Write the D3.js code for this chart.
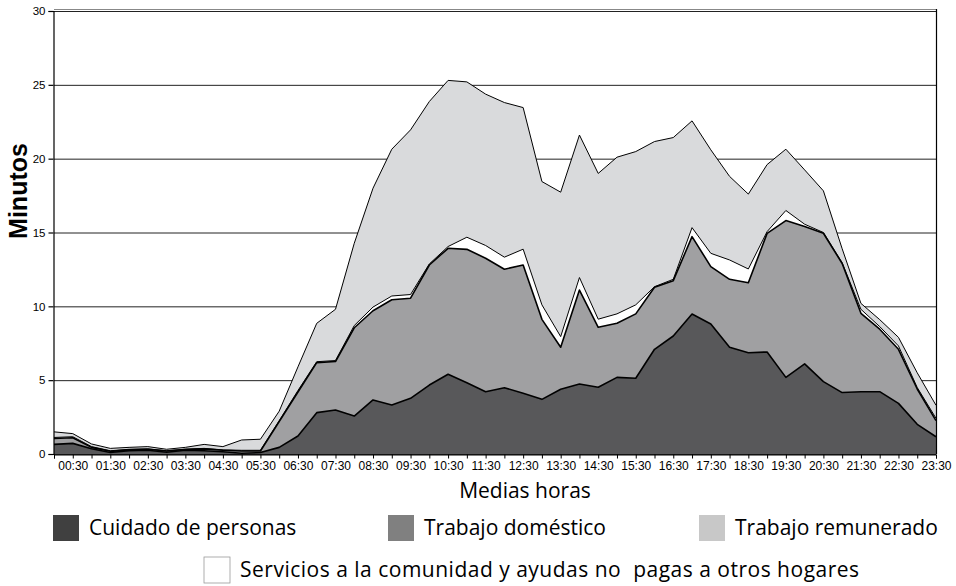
<!DOCTYPE html>
<html>
<head>
<meta charset="utf-8">
<script src="https://cdn.jsdelivr.net/npm/d3@7"></script>
<style>
  body { margin: 0; background: #fff; }
  svg { display: block; }
</style>
</head>
<body>
<svg id="chart"></svg>
<script>
// half-hour slots
var categories = ["00:00","00:30","01:00","01:30","02:00","02:30","03:00","03:30",
  "04:00","04:30","05:00","05:30","06:00","06:30","07:00","07:30",
  "08:00","08:30","09:00","09:30","10:00","10:30","11:00","11:30",
  "12:00","12:30","13:00","13:30","14:00","14:30","15:00","15:30",
  "16:00","16:30","17:00","17:30","18:00","18:30","19:00","19:30",
  "20:00","20:30","21:00","21:30","22:00","22:30","23:00","23:30"];

// minutes per series
var cuidado = [0.65,0.72,0.35,0.10,0.22,0.25,0.12,0.25,0.22,0.15,0.05,0.10,
  0.45,1.22,2.80,2.98,2.57,3.66,3.32,3.77,4.67,5.40,4.83,4.22,
  4.49,4.11,3.70,4.38,4.74,4.52,5.19,5.13,7.09,7.99,9.48,8.80,
  7.23,6.86,6.91,5.19,6.10,4.90,4.16,4.22,4.22,3.43,2.01,1.17];
var domestico = [0.40,0.38,0.10,0.08,0.06,0.07,0.08,0.05,0.13,0.10,0.15,0.10,
  1.75,2.98,3.39,3.28,5.98,6.04,7.13,6.78,8.13,8.53,9.03,9.04,
  8.02,8.69,5.42,2.85,6.36,4.06,3.66,4.36,4.20,3.75,5.24,3.89,
  4.60,4.74,8.03,10.62,9.30,10.05,8.74,5.31,4.23,3.66,2.39,1.09];
var servicios = [0.07,0.07,0.05,0.04,0.04,0.03,0.02,0.03,0.03,0.03,0.05,0.05,
  0.05,0.10,0.06,0.07,0.15,0.25,0.25,0.25,0.07,0.12,0.82,0.86,
  0.82,1.07,0.98,0.72,0.85,0.55,0.64,0.61,0.04,0.09,0.61,0.90,
  1.31,0.93,0.12,0.68,0.16,0.05,0.05,0.27,0.18,0.23,0.10,0.16];
var remunerado = [0.38,0.21,0.18,0.16,0.13,0.15,0.10,0.12,0.27,0.22,0.70,0.75,
  0.65,1.60,2.60,3.47,5.57,8.05,9.94,11.15,11.00,11.25,10.52,10.25,
  10.47,9.59,8.35,9.78,9.65,9.87,10.61,10.38,9.83,9.60,7.23,7.01,
  5.66,5.07,4.54,4.15,3.68,2.82,0.95,0.40,0.47,0.58,1.00,0.88];

var yTicks = [0, 5, 10, 15, 20, 25, 30];

var width = 956, height = 586;
var plotL = 54, plotR = 936, plotT = 11, plotB = 454;

var svg = d3.select("#chart").attr("width", width).attr("height", height);

var keys = ["cuidado", "domestico", "servicios", "remunerado"];
var fills = {cuidado: "#58585a", domestico: "#a0a0a2", servicios: "#ffffff", remunerado: "#d9dadc"};
var lineW = {cuidado: 1.6, domestico: 1.6, servicios: 1, remunerado: 1};

var rows = categories.map(function(c, i) {
  return {t: c, cuidado: cuidado[i], domestico: domestico[i],
          servicios: servicios[i], remunerado: remunerado[i]};
});

var x = d3.scalePoint().domain(categories).range([plotL, plotR]);
var y = d3.scaleLinear().domain([0, 30]).range([plotB, plotT]);

// grid
svg.append("g").selectAll("line").data(yTicks).enter().append("line")
  .attr("x1", plotL).attr("x2", plotR)
  .attr("y1", function(d){ return y(d) + 0.5; })
  .attr("y2", function(d){ return y(d) + 0.5; })
  .attr("stroke", "#222").attr("stroke-width", 1);

var stacked = d3.stack().keys(keys)(rows);

var area = d3.area()
  .x(function(d){ return x(d.data.t); })
  .y0(function(d){ return y(d[0]); })
  .y1(function(d){ return y(d[1]); });

var topLine = d3.line()
  .x(function(d){ return x(d.data.t); })
  .y(function(d){ return y(d[1]); });

svg.append("g").selectAll("path").data(stacked).enter().append("path")
  .attr("d", area)
  .attr("fill", function(d){ return fills[d.key]; });

svg.append("g").selectAll("path").data(stacked).enter().append("path")
  .attr("d", topLine)
  .attr("fill", "none")
  .attr("stroke", "#000")
  .attr("stroke-linejoin", "round")
  .attr("stroke-width", function(d){ return lineW[d.key]; });

// frame
svg.append("line").attr("x1", plotL).attr("x2", plotR).attr("y1", plotT - 1.5).attr("y2", plotT - 1.5)
  .attr("stroke", "#888").attr("stroke-width", 1);
svg.append("line").attr("x1", plotR + 0.5).attr("x2", plotR + 0.5).attr("y1", plotT - 2).attr("y2", plotB)
  .attr("stroke", "#000").attr("stroke-width", 1.2);

// axes
var xAxis = d3.axisBottom(x).tickSize(4).tickPadding(3)
  .tickFormat(function(d, i){ return i % 2 === 1 ? d : ""; });
var gx = svg.append("g").attr("transform", "translate(0," + (plotB + 0.5) + ")").call(xAxis);
gx.selectAll("text").attr("font-family", "Liberation Sans, Arial, sans-serif")
  .attr("font-size", "12px").attr("fill", "#000");
gx.selectAll("line, path").attr("stroke", "#000");

var yAxis = d3.axisLeft(y).tickValues(yTicks).tickSize(5).tickPadding(3);
var gy = svg.append("g").attr("transform", "translate(" + (plotL - 0.5) + ",0)").call(yAxis);
gy.selectAll("text").attr("font-family", "Liberation Sans, Arial, sans-serif")
  .attr("font-size", "11.5px").attr("fill", "#000");
gy.selectAll("line, path").attr("stroke", "#000").attr("stroke-width", 1.2);

// titles
svg.append("text")
  .attr("transform", "translate(27,191) rotate(-90)")
  .attr("text-anchor", "middle")
  .attr("font-family", "Liberation Sans, Arial, sans-serif")
  .attr("font-weight", "bold").attr("font-size", "25px")
  .text("Minutos");

svg.append("text")
  .attr("x", 525).attr("y", 498)
  .attr("text-anchor", "middle")
  .attr("font-family", "Open Sans, sans-serif")
  .attr("font-size", "21px")
  .text("Medias horas");

// legend
var legend = [
  {label: "Cuidado de personas", color: "#404040", x: 53, y: 515, ls: 0},
  {label: "Trabajo doméstico", color: "#808080", x: 388, y: 515, ls: 0},
  {label: "Trabajo remunerado", color: "#c8c8c8", x: 699, y: 515, ls: 0},
  {label: "Servicios a la comunidad y ayudas no  pagas a otros hogares", color: "#ffffff", x: 204, y: 557, ls: 0.5}
];
var lg = svg.append("g").selectAll("g").data(legend).enter().append("g");
lg.append("rect")
  .attr("x", function(d){ return d.x; }).attr("y", function(d){ return d.y; })
  .attr("width", 26).attr("height", 26)
  .attr("fill", function(d){ return d.color; })
  .attr("stroke", function(d){ return d.color === "#ffffff" ? "#999" : "none"; })
  .attr("stroke-width", 0.8);
lg.append("text")
  .attr("x", function(d){ return d.x + 36; })
  .attr("y", function(d){ return d.y + 20; })
  .attr("font-family", "Open Sans, sans-serif")
  .attr("font-size", "21px")
  .attr("letter-spacing", function(d){ return d.ls; })
  .style("white-space", "pre")
  .text(function(d){ return d.label; });
</script>
</body>
</html>
